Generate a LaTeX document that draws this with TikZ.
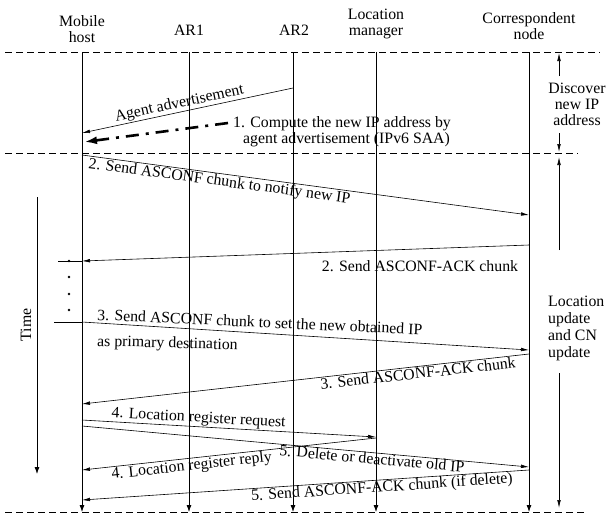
\documentclass[tikz,border=0pt]{standalone}
\usepackage{fontspec}
\setmainfont{Liberation Serif}
\usetikzlibrary{arrows.meta}
\begin{document}
\begin{tikzpicture}[x=1pt,y=-1pt,
  font=\fontsize{15.8}{16.5}\selectfont,
  life/.style={line width=0.8pt,-{Latex[length=7pt,width=5pt]}},
  msg/.style={line width=0.6pt,-{Latex[length=8pt,width=3.6pt]}},
  sep/.style={line width=1pt,dash pattern=on 7pt off 4pt},
  thick dd/.style={line width=2.6pt,dash pattern=on 13pt off 7pt on 3pt off 7pt,-{Latex[length=13pt,width=8pt]}},
  lbl/.style={inner sep=0.8pt}]
\useasboundingbox (0,0) rectangle (607,517);
% headers
\node[align=center] (hMH) at (82,29) {Mobile\\host};
\node (hAR1) at (189,30) {AR1};
\node (hAR2) at (294,30) {AR2};
\node[align=center] (hLM) at (376,24) {Location\\manager};
\node[align=center] (hCN) at (529,26) {Correspondent\\node};
% separators
\coordinate (s1a) at (5,52);  \coordinate (s1b) at (600,52);
\coordinate (s2a) at (5,153); \coordinate (s2b) at (578,153);
\coordinate (s3a) at (5,512); \coordinate (s3b) at (585,512);
\draw[sep] (s1a) -- (s1b);
\draw[sep] (s2a) -- (s2b);
\draw[sep] (s3a) -- (s3b);
% lifelines
\foreach \n/\x in {MH/82,AR1/189,AR2/293,LM/376,CN/529}{
  \coordinate (\n T) at (\x,52);
  \coordinate (\n B) at (\x,512);
  \draw[life] (\n T) -- (\n B);
}
% phase 1
\coordinate (a1) at (293,88);  \coordinate (a2) at (82,133);
\draw[msg] (a1) -- node[lbl,pos=0.53,above,sloped] {Agent advertisement} (a2);
\coordinate (t1) at (228,123); \coordinate (t2) at (84,142);
\draw[thick dd] (t1) -- (t2);
\node[anchor=west,inner sep=0pt] (c1) at (233,124) {1. Compute the new IP address by};
\node[anchor=west,inner sep=0pt] (c2) at (243,140) {agent advertisement (IPv6 SAA)};
% right brackets
\coordinate (d1) at (559,76);  \coordinate (d1t) at (559,53);
\coordinate (d2) at (559,133); \coordinate (d2t) at (559,152);
\draw[msg] (d1) -- (d1t);
\draw[msg] (d2) -- (d2t);
\node[align=center,font=\fontsize{15.8}{16}\selectfont] (disc) at (577,104) {Discover\\new IP\\address};
\coordinate (u1) at (559,250); \coordinate (u1t) at (559,157);
\coordinate (u2) at (559,373); \coordinate (u2t) at (559,508);
\draw[msg] (u1) -- (u1t);
\draw[msg] (u2) -- (u2t);
\node[align=left,anchor=west,inner sep=0pt,font=\fontsize{15.8}{17}\selectfont] (locu) at (548,328) {Location\\update\\and CN\\update};
% time
\coordinate (tm1) at (37,197); \coordinate (tm2) at (37,474);
\draw[life] (tm1) -- (tm2);
\node[rotate=90] (time) at (26,325) {Time};
% message 2
\coordinate (m2a) at (82,155); \coordinate (m2b) at (529,215);
\draw[msg] (m2a) -- node[lbl,pos=0.31,below,sloped] {2. Send ASCONF chunk to notify new IP} (m2b);
\coordinate (k2a) at (529,245); \coordinate (k2b) at (82,261);
\draw[msg] (k2a) -- (k2b);
\node (k2l) at (420,266) {2. Send ASCONF-ACK chunk};
% dots
\coordinate (e1) at (58,261); \draw[line width=0.6pt] (e1) -- (k2b);
\foreach \y in {261,277,294,310}{\fill (69,\y) circle (1.4pt);}
% message 3
\coordinate (m3a) at (82,322); \coordinate (e2) at (54,322);
\draw[line width=0.6pt] (e2) -- (m3a);
\coordinate (m3b) at (529,350);
\draw[msg] (m3a) -- (m3b);
\node[anchor=base west,inner sep=0pt,rotate=-2.6] (m3l1) at (97,320) {3. Send ASCONF chunk to set the new obtained IP};
\node[anchor=base west,inner sep=0pt,rotate=-1.5] (m3l2) at (97,346) {as primary destination};
\coordinate (k3a) at (529,354); \coordinate (k3b) at (82,404);
\draw[msg] (k3a) -- node[lbl,pos=0.25,below,sloped] {3. Send ASCONF-ACK chunk} (k3b);
% message 4 / 5
\coordinate (m4a) at (82,420); \coordinate (m4b) at (376,437);
\draw[msg] (m4a) -- node[lbl,pos=0.395,above,sloped] {4. Location register request} (m4b);
\coordinate (m5a) at (82,426); \coordinate (m5b) at (529,467);
\draw[msg] (m5a) -- node[inner sep=0pt,pos=0.65,below,sloped] {5. Delete or deactivate old IP} (m5b);
\coordinate (r4a) at (376,438); \coordinate (r4b) at (82,470);
\draw[msg] (r4a) -- node[lbl,pos=0.63,below,sloped] {4. Location register reply} (r4b);
\coordinate (k5a) at (529,470); \coordinate (k5b) at (82,500);
\draw[msg] (k5a) -- node[inner sep=0.5pt,pos=0.33,below,sloped] {5. Send ASCONF-ACK chunk (if delete)} (k5b);
\end{tikzpicture}
\end{document}
